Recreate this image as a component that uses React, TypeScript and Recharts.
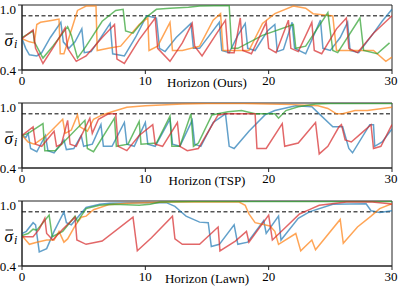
import React from 'react';
import { LineChart, Line, XAxis, YAxis, ReferenceLine, ReferenceArea } from 'recharts';

type P = [number, number];

const FONT = '"Liberation Serif", "Times New Roman", serif';
const xTicks = [0, 10, 20, 30];
const yTicks = [0.4, 1.0];
const threshold = 0.9;
const panelTitles = ['Horizon (Ours)', 'Horizon (TSP)', 'Horizon (Lawn)'];
const seriesColors = ['#1f77b4', '#ff7f0e', '#2ca02c', '#d62728'];

// ---------- Panel 1: Ours ----------
const oursBlue: P[] = [[0,0.69],[0.3,0.6],[0.6,0.54],[1.2,0.53],[1.6,0.56],[2.3,0.7],[3.15,0.84],[3.35,0.66],[3.8,0.6],[4.3,0.66],[4.85,0.78],[5.05,0.56],[5.6,0.57],[6.4,0.7],[7.15,0.83],[7.35,0.55],[8.3,0.53],[9.2,0.7],[10.1,0.9],[10.9,0.88],[11.15,0.6],[11.6,0.57],[12.5,0.7],[13.7,0.83],[13.9,0.6],[14.4,0.6],[15.2,0.72],[16.0,0.84],[16.2,0.58],[16.8,0.56],[17.5,0.72],[18.1,0.83],[18.3,0.6],[18.9,0.58],[19.9,0.76],[20.5,0.82],[20.7,0.57],[21.2,0.59],[21.9,0.84],[22.1,0.6],[23.0,0.55],[24.2,0.86],[24.4,0.6],[25.0,0.58],[25.8,0.7],[26.4,0.84],[26.6,0.58],[27.3,0.56],[28.5,0.74],[29.2,0.85],[30,0.96]];
const oursOrange: P[] = [[0,0.69],[0.6,0.66],[1.0,0.65],[1.2,0.82],[1.5,0.84],[2.5,0.86],[3.0,0.87],[3.1,0.55],[3.4,0.55],[4.5,0.95],[5.2,0.99],[6.0,0.99],[6.1,0.58],[7.0,0.6],[8.0,0.62],[9.5,0.82],[10.2,0.88],[10.3,0.58],[11.0,0.62],[12.0,0.84],[12.2,0.58],[13.0,0.58],[14.4,0.62],[15.5,0.86],[16.1,0.92],[16.3,0.58],[17.0,0.58],[18.4,0.58],[19.5,0.83],[20.5,0.92],[22.0,0.99],[23.0,0.97],[23.6,0.92],[25.2,0.9],[25.5,0.58],[27.0,0.58],[28.5,0.58],[29.5,0.48],[30,0.52]];
const oursGreen: P[] = [[0,0.7],[0.9,0.76],[1.0,0.66],[1.7,0.51],[2.5,0.62],[3.7,0.8],[4.0,0.72],[4.5,0.51],[5.2,0.62],[6.5,0.85],[7.6,0.95],[8.2,0.96],[8.4,0.76],[9.0,0.74],[10.0,0.88],[10.9,0.96],[12.0,0.97],[13.5,0.98],[14.4,0.99],[16.8,0.995],[17.0,0.6],[17.5,0.6],[19.5,0.72],[22.0,0.82],[22.2,0.6],[23.0,0.62],[24.8,0.93],[25.2,0.58],[25.6,0.56],[27.4,0.88],[27.7,0.58],[28.8,0.55],[29.8,0.65]];
const oursRed: P[] = [[0,0.69],[0.9,0.77],[1.1,0.6],[1.7,0.46],[2.6,0.62],[3.5,0.79],[3.7,0.6],[4.4,0.48],[5.2,0.53],[6.5,0.7],[7.5,0.82],[7.7,0.5],[8.3,0.46],[9.5,0.68],[10.8,0.88],[11.0,0.6],[12.0,0.48],[13.0,0.65],[13.8,0.83],[14.0,0.62],[14.6,0.53],[15.8,0.74],[16.5,0.86],[16.7,0.56],[17.2,0.56],[17.7,0.88],[17.9,0.58],[18.6,0.55],[19.8,0.84],[20.0,0.6],[20.6,0.56],[21.6,0.86],[21.8,0.6],[22.4,0.57],[23.5,0.84],[23.7,0.58],[24.3,0.55],[25.5,0.78],[26.3,0.88],[26.5,0.6],[27.2,0.56],[28.5,0.74],[30,0.9]];

// ---------- Panel 2: TSP ----------
const tspBlue: P[] = [[0,0.7],[0.3,0.68],[0.5,0.72],[0.7,0.58],[1.2,0.55],[1.9,0.7],[2.1,0.56],[2.6,0.54],[3.4,0.66],[3.6,0.57],[4.2,0.58],[4.8,0.7],[5.0,0.6],[5.7,0.62],[6.4,0.8],[6.6,0.6],[7.3,0.6],[8.3,0.82],[8.5,0.62],[9.1,0.6],[10.0,0.82],[10.2,0.62],[10.8,0.6],[12.0,0.85],[12.2,0.62],[12.8,0.6],[13.8,0.84],[14.0,0.62],[14.5,0.6],[15.5,0.82],[16.5,0.9],[16.8,0.6],[17.2,0.58],[18.4,0.74],[19.7,0.89],[20.5,0.93],[22.2,0.975],[23.5,0.965],[24.1,0.9],[25.2,0.78],[26.0,0.78],[26.5,0.58],[26.8,0.54],[28.2,0.8],[28.5,0.8],[28.6,0.6],[29.2,0.64],[30,0.76]];
const tspOrange: P[] = [[0,0.7],[0.5,0.64],[1.0,0.62],[2.0,0.7],[3.3,0.85],[3.5,0.72],[4.0,0.75],[4.5,0.89],[4.7,0.78],[5.3,0.74],[5.8,0.85],[6.5,0.89],[7.3,0.92],[8.5,0.96],[10,0.975],[13,0.99],[15,0.995],[18,0.995],[22,0.985],[24,0.975],[24.8,0.95],[25.5,0.9],[26,0.9],[27,0.93],[28,0.93],[30,0.96]];
const tspGreen: P[] = [[0,0.7],[0.5,0.72],[1.7,0.81],[1.85,0.56],[2.7,0.56],[5.1,0.84],[5.3,0.58],[5.8,0.55],[7.5,0.86],[7.65,0.6],[8.6,0.62],[9.5,0.83],[9.65,0.62],[10.9,0.63],[12.0,0.88],[12.15,0.6],[12.8,0.6],[13.7,0.9],[13.9,0.6],[14.3,0.63],[15.4,0.89],[16.7,0.92],[17.8,0.93],[18.9,0.9],[20.5,0.9],[20.8,0.86],[21.4,0.93],[22.4,0.965],[23.8,0.99],[25,0.995],[30,0.995]];
const tspRed: P[] = [[0,0.7],[0.9,0.78],[1.1,0.62],[1.6,0.6],[2.6,0.74],[2.8,0.6],[3.2,0.62],[3.7,0.84],[3.9,0.62],[4.4,0.6],[5.5,0.86],[5.7,0.72],[6.2,0.85],[7.0,0.9],[7.6,0.9],[7.8,0.6],[8.5,0.56],[9.5,0.7],[10.6,0.8],[10.8,0.62],[11.4,0.6],[12.6,0.82],[12.8,0.6],[13.4,0.56],[14.3,0.58],[15.9,0.89],[16.6,0.9],[18.9,0.9],[19.05,0.58],[19.8,0.58],[21.1,0.81],[21.3,0.6],[22.4,0.63],[23.8,0.82],[24.1,0.53],[24.8,0.6],[25.7,0.78],[25.9,0.8],[26.2,0.66],[26.7,0.64],[27.5,0.72],[28.3,0.8],[28.5,0.58],[29.1,0.6],[30,0.8]];

// ---------- Panel 3: Lawn ----------
const lawnBlue: P[] = [[0,0.7],[0.35,0.72],[0.9,0.8],[1.1,0.78],[1.4,0.53],[2.0,0.56],[2.6,0.72],[3.4,0.9],[3.6,0.8],[4.0,0.78],[5.2,0.94],[6.3,0.97],[7.1,0.98],[9,0.985],[11.7,0.985],[12.4,0.95],[12.8,0.91],[13.3,0.86],[14.4,0.805],[15.1,0.8],[15.35,0.58],[16.0,0.6],[17.2,0.78],[17.5,0.6],[18.3,0.62],[19.6,0.82],[19.8,0.7],[20.8,0.86],[21.0,0.64],[22.4,0.84],[23.3,0.9],[25.2,0.97],[27.9,0.975],[28.3,0.91],[29.0,0.895],[30,0.91]];
const lawnOrange: P[] = [[0,0.68],[0.6,0.6],[1.2,0.62],[2.0,0.64],[2.6,0.64],[3.0,0.72],[3.4,0.62],[3.7,0.65],[4.3,0.77],[4.8,0.85],[5.2,0.86],[5.8,0.92],[7.0,0.965],[8.5,0.98],[12,0.99],[17.6,0.99],[18.1,0.96],[18.4,0.88],[18.9,0.8],[20.1,0.77],[20.5,0.72],[20.8,0.6],[22.2,0.7],[22.6,0.54],[23.5,0.64],[23.8,0.55],[25.8,0.83],[26.05,0.61],[27.2,0.76],[28.3,0.86],[29.0,0.93],[30,0.975]];
const lawnGreen: P[] = [[0,0.68],[0.5,0.7],[0.9,0.74],[1.2,0.73],[1.7,0.8],[2.2,0.87],[2.45,0.67],[3.3,0.72],[4.3,0.86],[4.5,0.81],[5.2,0.93],[6.3,0.96],[7.4,0.97],[8.5,0.965],[9.5,0.96],[10.4,0.97],[11.2,0.99],[14,0.995],[30,0.995]];
const lawnRed: P[] = [[0,0.67],[0.9,0.67],[1.4,0.74],[1.85,0.84],[2.0,0.7],[2.5,0.64],[3.3,0.74],[4.3,0.85],[4.45,0.64],[5.2,0.6],[6.5,0.63],[9.0,0.85],[9.35,0.54],[10.5,0.66],[12.2,0.86],[12.4,0.65],[13,0.6],[14.4,0.6],[15.9,0.76],[16.05,0.54],[17.3,0.63],[18.2,0.72],[18.4,0.62],[20.0,0.87],[20.3,0.64],[21.4,0.76],[22.5,0.88],[23.3,0.92],[24.1,0.96],[26.3,0.99],[28.4,0.99],[29.8,0.975],[30,0.97]];

const panels: P[][][] = [
  [oursBlue, oursOrange, oursGreen, oursRed],
  [tspBlue, tspOrange, tspGreen, tspRed],
  [lawnBlue, lawnOrange, lawnGreen, lawnRed],
];
const panelTops = [0, 98, 196];

const SigmaLabel = (props: any) => {
  const vb = props.viewBox || { x: 0, y: 5, width: 22, height: 65 };
  const cy = vb.y + vb.height / 2;
  return (
    <g>
      <line x1={5.5} x2={13} y1={cy - 3.5} y2={cy - 3.5} stroke="#000" strokeWidth={0.9} />
      <text x={4.5} y={cy + 8} fontSize={17} fontStyle="italic" fontFamily={FONT} fill="#000" stroke="none">σ</text>
      <text x={14} y={cy + 10} fontSize={12} fontStyle="italic" fontFamily={FONT} fill="#000" stroke="none">i</text>
    </g>
  );
};

const XTick = (props: any) => (
  <text x={props.x} y={props.y} dy="0.71em" textAnchor="middle" fontSize={13} fontFamily={FONT} fill="#000" stroke="none">
    {props.payload.value}
  </text>
);

const YTick = (props: any) => (
  <text x={props.x} y={props.y} dy="0.355em" textAnchor="end" fontSize={13} fontFamily={FONT} fill="#000" stroke="none">
    {Number(props.payload.value).toFixed(1)}
  </text>
);

const TitleLabel = (props: any) => {
  const vb = props.viewBox || { x: 22, y: 70, width: 370, height: 22 };
  return (
    <text x={vb.x + vb.width / 2} y={vb.y + vb.height / 2 + 1} dy="0.355em" textAnchor="middle" fontSize={13} fontFamily={FONT} fill="#000" stroke="none">
      {props.title}
    </text>
  );
};

function Panel({ series, title }: { series: P[][]; title: string }) {
  return (
    <LineChart width={399} height={92} margin={{ top: 5, right: 7, bottom: 0, left: 0 }}>
      <XAxis
        type="number"
        dataKey="x"
        domain={[0, 30]}
        ticks={xTicks}
        allowDataOverflow
        tickSize={4}
        tickMargin={2}
        height={22}
        axisLine={{ stroke: '#222' }}
        tickLine={{ stroke: '#222' }}
        tick={<XTick />}
        label={<TitleLabel title={title} />}
      />
      <YAxis
        type="number"
        domain={[0.4, 1.0]}
        ticks={yTicks}
        allowDataOverflow
        width={22}
        tickSize={4}
        tickMargin={2}
        axisLine={{ stroke: '#222' }}
        tickLine={{ stroke: '#222' }}
        tick={<YTick />}
        label={<SigmaLabel />}
      />
      <ReferenceArea x1={0} x2={30} y1={0.4} y2={1.0} fill="none" fillOpacity={0} stroke="#222" strokeWidth={1} ifOverflow="visible" />
      <ReferenceLine y={threshold} stroke="#000" strokeDasharray="4 2.5" strokeWidth={1} />
      {series.map((pts, i) => (
        <Line
          key={i}
          data={pts.map(([x, y]) => ({ x, y }))}
          dataKey="y"
          type="linear"
          stroke={seriesColors[i]}
          strokeOpacity={0.7}
          strokeWidth={1.5}
          dot={false}
          activeDot={false}
          isAnimationActive={false}
        />
      ))}
    </LineChart>
  );
}

export default function App() {
  return (
    <div style={{ position: 'absolute', left: 0, top: 0, width: 399, height: 287, background: '#fff', fontFamily: FONT }}>
      {panels.map((s, i) => (
        <div key={i} style={{ position: 'absolute', left: 0, top: panelTops[i] }}>
          <Panel series={s} title={panelTitles[i]} />
        </div>
      ))}
    </div>
  );
}
